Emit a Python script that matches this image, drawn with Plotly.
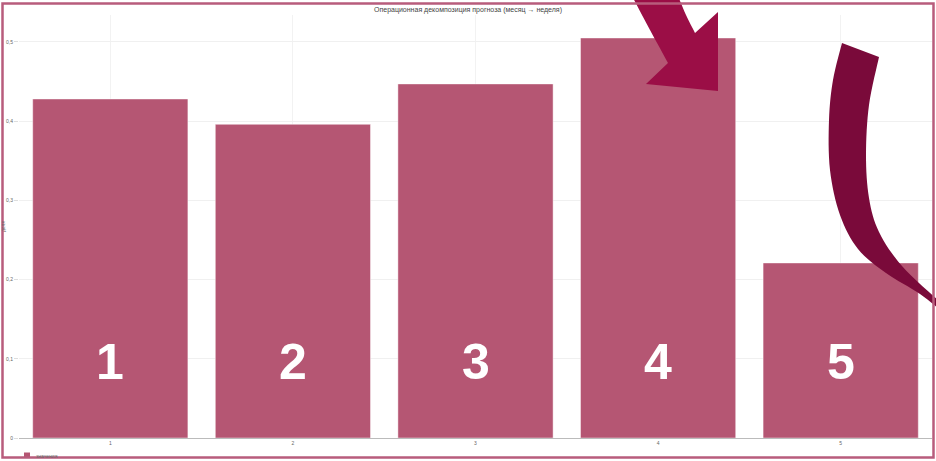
import plotly.graph_objects as go

# Forecast decomposition values per operational block
categories = ["1", "2", "3", "4", "5"]
values = [0.428, 0.396, 0.447, 0.505, 0.221]
block_labels = ["1", "2", "3", "4", "5"]
series_name = "значения"
y_ticks = [0, 0.1, 0.2, 0.3, 0.4, 0.5]
y_tick_text = ["0", "0,1", "0,2", "0,3", "0,4", "0,5"]

FIG_W, FIG_H = 936, 461
M_L, M_R, M_T, M_B = 19, 4, 15, 23
PLOT_W = FIG_W - M_L - M_R
PLOT_H = FIG_H - M_T - M_B

BAR = "#b55673"
ACCENT = "#9b0e46"
DARK = "#7a0a3a"
FRAME = "#b85c7c"


def to_paper(px, py):
    """Convert page pixel position to paper fractions of the plot area."""
    return (px - M_L) / PLOT_W, (FIG_H - M_B - py) / PLOT_H


def catmull(points, steps=10):
    """Smooth a polyline through the given points."""
    out = []
    pts = [points[0]] + points + [points[-1]]
    for i in range(1, len(pts) - 2):
        p0, p1, p2, p3 = pts[i - 1], pts[i], pts[i + 1], pts[i + 2]
        for s in range(steps):
            t = s / steps
            t2, t3 = t * t, t * t * t
            x = 0.5 * ((2 * p1[0]) + (-p0[0] + p2[0]) * t + (2 * p0[0] - 5 * p1[0] + 4 * p2[0] - p3[0]) * t2 + (-p0[0] + 3 * p1[0] - 3 * p2[0] + p3[0]) * t3)
            y = 0.5 * ((2 * p1[1]) + (-p0[1] + p2[1]) * t + (2 * p0[1] - 5 * p1[1] + 4 * p2[1] - p3[1]) * t2 + (-p0[1] + 3 * p1[1] - 3 * p2[1] + p3[1]) * t3)
            out.append((x, y))
    out.append(points[-1])
    return out


def path_from(points):
    segs = []
    for i, (px, py) in enumerate(points):
        x, y = to_paper(px, py)
        segs.append(("M" if i == 0 else "L") + f"{x:.5f},{y:.5f}")
    return " ".join(segs) + " Z"


# Curved pointer arrow near the top
arrow_pts = (
    [(632, -4), (678, -4)]
    + catmull([(678, -4), (686, 15), (695, 33)], 6)[1:]
    + [(718, 12), (718, 91), (646, 84)]
    + catmull([(668, 63), (650, 30), (632, -4)], 6)
)

# Sweeping crescent on the right
right_edge = catmull([(879, 57), (869, 105), (866, 155), (869, 198), (879, 232), (902, 266), (940, 302)], 8)
left_edge = catmull([(945, 314), (920, 294), (886, 273), (858, 249), (840, 215), (830, 170), (829, 120), (833, 80), (842, 43)], 8)
crescent_pts = right_edge + left_edge

fig = go.Figure()
fig.add_trace(go.Bar(
    x=categories,
    y=values,
    name=series_name,
    marker=dict(color=BAR, line=dict(color="rgba(255,255,255,0.45)", width=1)),
    width=0.85,
    showlegend=False,
))

# Large block numbers inside the bars (category index positions)
annotations = [
    dict(x=i, y=0.096, xref="x", yref="y", text=f"<b>{t}</b>", showarrow=False,
         font=dict(family="Liberation Sans, Arial", size=50, color="white"))
    for i, t in enumerate(block_labels)
]

# Legend entry drawn below the axis
lx, ly = to_paper(34, 455.5)
annotations.append(dict(x=lx, y=ly, xref="paper", yref="paper", text=series_name,
                        showarrow=False, xanchor="left", yanchor="middle",
                        font=dict(size=5, color="#666")))

fx0, fy0 = to_paper(2.5, 3.5)
fx1, fy1 = to_paper(933.5, 457.5)
kx0, ky0 = to_paper(24, 452.5)
kx1, ky1 = to_paper(30, 457.5)

shapes = [
    dict(type="path", xref="paper", yref="paper", path=path_from(arrow_pts),
         fillcolor=ACCENT, line=dict(width=0), layer="above"),
    dict(type="path", xref="paper", yref="paper", path=path_from(crescent_pts),
         fillcolor=DARK, line=dict(width=0), layer="above"),
    dict(type="rect", xref="paper", yref="paper", x0=kx0, y0=ky0, x1=kx1, y1=ky1,
         fillcolor=BAR, line=dict(width=0), layer="above"),
    dict(type="rect", xref="paper", yref="paper", x0=fx0, y0=fy0, x1=fx1, y1=fy1,
         line=dict(color=FRAME, width=2.5), fillcolor="rgba(0,0,0,0)", layer="above"),
]

fig.update_layout(
    width=FIG_W,
    height=FIG_H,
    margin=dict(l=M_L, r=M_R, t=M_T, b=M_B, pad=0, autoexpand=False),
    paper_bgcolor="white",
    plot_bgcolor="white",
    showlegend=False,
    font=dict(family="Liberation Sans, Arial", size=6, color="#555"),
    title=dict(text="Операционная декомпозиция прогноза (месяц → неделя)",
               x=0.5, xanchor="center", y=1 - 10 / FIG_H, yanchor="middle",
               font=dict(size=7, color="#444")),
    bargap=0.15,
    annotations=annotations,
    shapes=shapes,
    xaxis=dict(
        type="category",
        range=[-0.5, 4.5],
        showgrid=True, gridcolor="#f2f2f2", gridwidth=1,
        showline=True, linecolor="#bbbbbb", linewidth=1,
        ticks="", tickfont=dict(size=5, color="#666"),
    ),
    yaxis=dict(
        range=[0, 0.534],
        tickvals=y_ticks, ticktext=y_tick_text,
        showgrid=True, gridcolor="#f0f0f0", gridwidth=1,
        zeroline=True, zerolinecolor="#bbbbbb", zerolinewidth=1,
        ticks="outside", ticklen=4, tickcolor="#dddddd",
        tickfont=dict(size=5, color="#666"),
        title=dict(text="доля", font=dict(size=5, color="#666"), standoff=0),
    ),
)

fig.write_html("out.html")
